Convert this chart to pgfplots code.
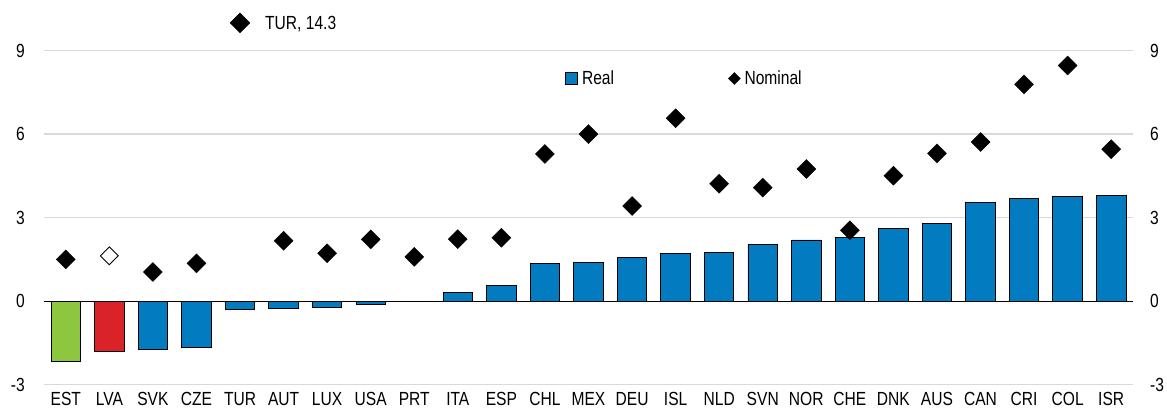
\documentclass[border=0pt]{standalone}
\usepackage{fontspec}
\setmainfont{Liberation Sans}[FakeStretch=0.82]
\usepackage{pgfplots}
\pgfplotsset{compat=1.18}
\definecolor{barblue}{RGB}{3,123,193}
\definecolor{bargreen}{RGB}{141,198,63}
\definecolor{barred}{RGB}{218,35,41}
\definecolor{gridgray}{RGB}{217,217,217}
\newcommand\cf{\fontsize{19bp}{22bp}\selectfont}
\begin{document}
\begin{tikzpicture}
\begin{axis}[name=ax, scale only axis, width=1089bp, height=334bp,
  xmin=-0.5, xmax=24.5, ymin=-3, ymax=9, clip=false,
  axis line style={draw=none}, major tick length=0pt,
  xtick={0,...,24},
  xticklabels={EST,LVA,SVK,CZE,TUR,AUT,LUX,USA,PRT,ITA,ESP,CHL,MEX,DEU,ISL,NLD,SVN,NOR,CHE,DNK,AUS,CAN,CRI,COL,ISR},
  ytick={-3,3,6,9}, yticklabels={-3,3,6,9},
  extra y ticks={0}, extra y tick labels={0},
  extra y tick style={ymajorgrids=true, major grid style={black, line width=1.3bp}},
  ymajorgrids, major grid style={gridgray, line width=1.5bp},
  tick label style={font=\cf, inner sep=0pt},
  yticklabel style={anchor=east, xshift=-19bp},
  xticklabel style={anchor=north, yshift=-7.5bp},
  legend style={at={(rel axis cs:0.4784,0.9168)}, anchor=west, draw=none, fill=none,
    font=\cf, legend columns=2, inner sep=0pt, nodes={inner sep=0pt},
    /tikz/every odd column/.append style={column sep=4bp},
    /tikz/every even column/.append style={column sep=114bp}},
]
\addlegendimage{legend image code/.code={\draw[fill=barblue, line width=0.9bp] (0bp,-6bp) rectangle (12bp,6bp);}}
\addlegendentry{Real}
\addlegendimage{legend image code/.code={\fill[black] (0bp,0bp)--(6bp,6bp)--(12bp,0bp)--(6bp,-6bp)--cycle;}}
\addlegendentry{Nominal}

% Real
\addplot[ybar, bar width=29.5bp, bar shift=0pt, fill=bargreen, draw=black, line width=0.9bp, forget plot]
  coordinates {(0,-2.15)};
\addplot[ybar, bar width=29.5bp, bar shift=0pt, fill=barred, draw=black, line width=0.9bp, forget plot]
  coordinates {(1,-1.82)};
\addplot[ybar, bar width=29.5bp, bar shift=0pt, fill=barblue, draw=black, line width=0.9bp, forget plot]
  coordinates {(2,-1.72) (3,-1.67) (4,-0.30) (5,-0.27) (6,-0.22) (7,-0.10) (8,-0.02)
   (9,0.30) (10,0.57) (11,1.36) (12,1.39) (13,1.57) (14,1.72) (15,1.74) (16,2.03)
   (17,2.20) (18,2.29) (19,2.60) (20,2.78) (21,3.55) (22,3.69) (23,3.77) (24,3.81)};
% Nominal
\addplot[only marks, mark=square*, mark size=6.7bp, mark options={rotate=45, fill=black, draw=black}, forget plot]
  coordinates {(0,1.50) (2,1.05) (3,1.36) (5,2.17) (6,1.72) (7,2.22) (8,1.59)
   (9,2.23) (10,2.28) (11,5.29) (12,6.00) (13,3.42) (14,6.57) (15,4.22) (16,4.08)
   (17,4.75) (18,2.55) (19,4.51) (20,5.31) (21,5.72) (22,7.79) (23,8.47) (24,5.46)};
\addplot[only marks, mark=square*, mark size=6.3bp, mark options={rotate=45, fill=white, draw=black, line width=0.9bp}, forget plot]
  coordinates {(1,1.63)};
\addplot[only marks, mark=square*, mark size=7bp, mark options={rotate=45, fill=black, draw=black}, forget plot]
  coordinates {(4,10)};
\node[font=\cf, anchor=base west, inner sep=0pt, xshift=25bp, yshift=-6.8bp] at (axis cs:4,10) {TUR, 14.3};
\end{axis}
\begin{axis}[scale only axis, width=1089bp, height=334bp,
  xmin=-0.5, xmax=24.5, ymin=-3, ymax=9,
  axis line style={draw=none}, major tick length=0pt,
  xtick=\empty, ytick={-3,0,3,6,9}, yticklabels={-3,0,3,6,9},
  yticklabel pos=right,
  tick label style={font=\cf, inner sep=0pt},
  yticklabel style={anchor=west, xshift=17bp}]
\end{axis}
\pgfresetboundingbox
\path[use as bounding box] ([xshift=-44bp,yshift=-27.3bp]ax.south west) rectangle ([xshift=34bp,yshift=50.7bp]ax.north east);
\end{tikzpicture}
\end{document}
